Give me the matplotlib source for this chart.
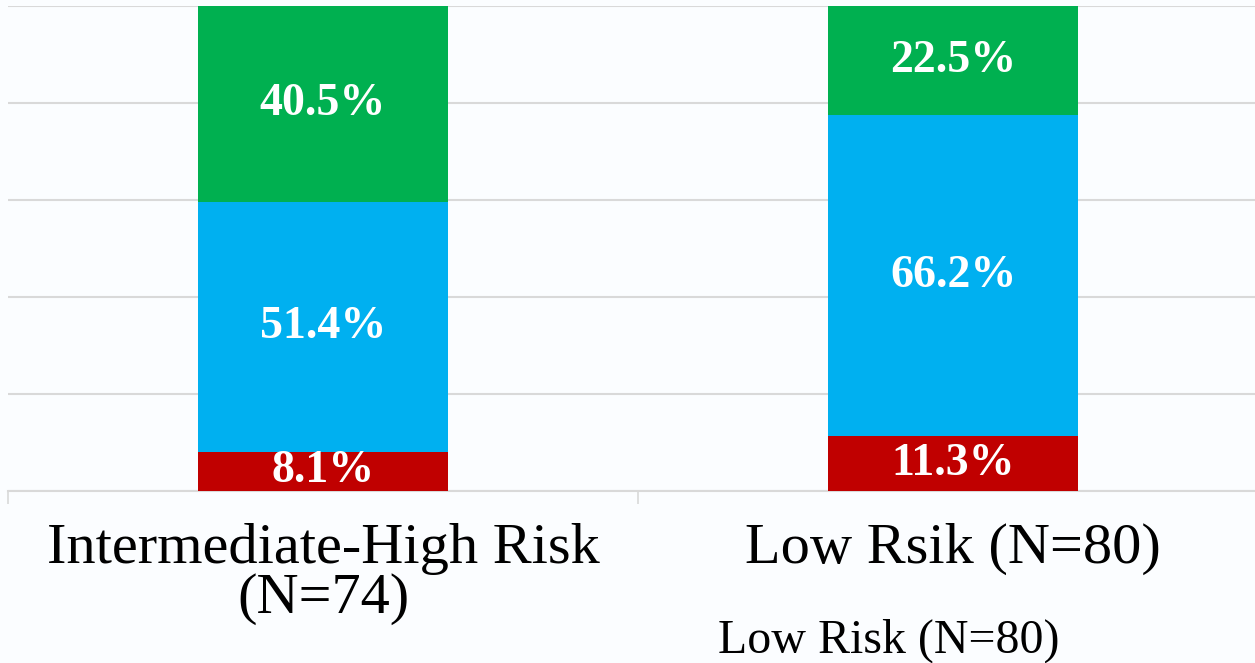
import numpy as np
import matplotlib
matplotlib.use('Agg')
import matplotlib.pyplot as plt


# data (percent of patients in each group)
categories = ['Intermediate-High Risk\n(N=74)', 'Low Rsik (N=80)']
red_vals = [8.1, 11.3]
blue_vals = [51.4, 66.2]
green_vals = [40.5, 22.5]
y_ticks = [0, 20, 40, 60, 80, 100]

plt.rcParams['font.family'] = ['Liberation Serif', 'DejaVu Serif']

fig = plt.figure(figsize=(12.55, 6.63), dpi=100)
fig.patch.set_facecolor('#fbfdff')

# axis runs slightly past the right edge of the picture, like the original slide
ax = fig.add_axes([8 / 1255, 172 / 663, 1260 / 1255, 485 / 663])
ax.set_facecolor('none')

x = np.arange(len(categories))
width = 0.397

red = np.array(red_vals)
blue = np.array(blue_vals)
green = np.array(green_vals)

ax.bar(x, red, width, color='#C00000', zorder=3)
ax.bar(x, blue, width, bottom=red, color='#00B0F0', zorder=3)
ax.bar(x, green, width, bottom=red + blue, color='#00B050', zorder=3)

# white percentage labels in the middle of every segment
for i in range(len(x)):
    bottoms = [0, red[i], red[i] + blue[i]]
    for b, v in zip(bottoms, [red[i], blue[i], green[i]]):
        ax.text(x[i], b + v / 2, f'{v:.1f}%', ha='center', va='center',
                color='white', fontsize=33, fontweight='bold', zorder=4)

ax.set_xlim(-0.5, 1.5)
ax.set_ylim(0, 100)
ax.set_yticks(y_ticks)
ax.yaxis.grid(True, color='#d9d9d9', linewidth=1.5, zorder=0)
ax.set_axisbelow(True)
ax.tick_params(axis='y', length=0, labelleft=False)

# category labels on major ticks, the little marks sit between categories
ax.set_xticks(x)
ax.set_xticklabels(categories, fontsize=42, linespacing=0.95)
ax.tick_params(axis='x', which='major', length=0, pad=23)
ax.set_xticks([-0.5, 0.5, 1.5], minor=True)
ax.tick_params(axis='x', which='minor', length=9, color='#d9d9d9', width=1.2)

for s in ['top', 'right', 'left']:
    ax.spines[s].set_visible(False)
ax.spines['bottom'].set_color('#d9d9d9')
ax.spines['bottom'].set_linewidth(1.5)

# corrected label typed under the chart
fig.text(718 / 1255, 1 - 653 / 663, 'Low Risk (N=80)', fontsize=34.5,
         ha='left', va='baseline', color='black')

fig.savefig('out.png', dpi=100, facecolor=fig.get_facecolor())
